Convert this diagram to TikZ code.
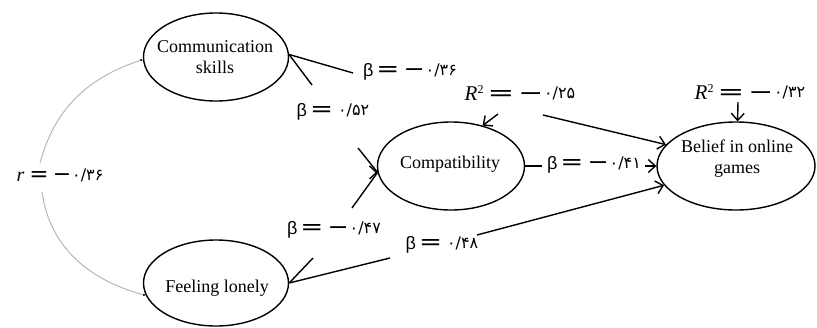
\documentclass[tikz,border=0pt]{standalone}
\usepackage{fontspec}
\usepackage{graphicx}
\setmainfont{Liberation Serif}
\newfontfamily\lsans{Liberation Sans}
\newfontfamily\dvs{DejaVu Sans}
\usetikzlibrary{shapes.geometric,arrows.meta}
\newcommand{\bsym}{{\lsans\fontsize{18}{18}\selectfont β}}
\newcommand{\opx}[2]{\scalebox{#1}[1]{\dvs\fontsize{22}{24}\selectfont #2}}
\newcommand{\dgt}[1]{\raisebox{1.5pt}{\dvs\fontsize{16}{16}\selectfont #1}}
\newcommand{\rsq}{{\fontsize{21}{22}\selectfont\itshape R}\raisebox{7pt}{\fontsize{12}{12}\selectfont 2}}
\tikzset{
  ell/.style={ellipse, draw, line width=1.4pt, inner sep=0pt},
  etxt/.style={align=center, inner sep=0pt, font=\fontsize{18}{21}\selectfont},
  lbl/.style={inner sep=1pt},
  ln/.style={line width=1.4pt},
  arr/.style={line width=1.4pt, -{Straight Barb[length=7pt,width=13pt]}},
  corr/.style={draw=black!28, line width=1pt, -{Latex[length=2.5pt,width=2.5pt,color=black]}}
}
\begin{document}
\begin{tikzpicture}[x=1pt,y=-1pt]
\useasboundingbox (0,0) rectangle (817,327);
\fill[white] (0,0) rectangle (817,327);
% ellipses
\node[ell, minimum width=145pt, minimum height=88pt] (cs) at (216,57) {};
\node[ell, minimum width=145pt, minimum height=86pt] (fl) at (216,283) {};
\node[ell, minimum width=147pt, minimum height=88pt] (cp) at (451,166) {};
\node[ell, minimum width=158pt, minimum height=88pt] (bg) at (736,166) {};
\node[etxt] (cst) at (215,57) {Communication\\skills};
\node[etxt] (flt) at (217,288) {Feeling lonely};
\node[etxt] (cpt) at (450,164) {Compatibility};
\node[etxt] (bgt) at (737,159) {Belief in online\\games};
% labels
\node[lbl] (b36) at (410,72) {\bsym\hspace{3pt}\opx{1.25}{=}\hspace{4pt}\opx{1.15}{−}\hspace{1pt}\dgt{۰/۳۶}};
\node[lbl] (b52) at (333,112) {\bsym\hspace{3pt}\opx{1.25}{=}\hspace{5pt}\dgt{۰/۵۲}};
\node[lbl] (r25) at (520,93) {\rsq\hspace{4pt}\opx{1.45}{=}\hspace{4pt}\opx{1.35}{−}\hspace{1pt}\dgt{۰/۲۵}};
\node[lbl] (r32) at (750,92) {\rsq\hspace{4pt}\opx{1.45}{=}\hspace{4pt}\opx{1.35}{−}\hspace{1pt}\dgt{۰/۳۲}};
\node[lbl] (b41) at (594,165) {\bsym\hspace{3pt}\opx{1.25}{=}\hspace{4pt}\opx{1.15}{−}\hspace{1pt}\dgt{۰/۴۱}};
\node[lbl] (b47) at (334,230) {\bsym\hspace{3pt}\opx{1.25}{=}\hspace{4pt}\opx{1.15}{−}\hspace{1pt}\dgt{۰/۴۷}};
\node[lbl] (b48) at (442,245) {\bsym\hspace{3pt}\opx{1.25}{=}\hspace{5pt}\dgt{۰/۴۸}};
\node[lbl] (rr) at (60,175) {{\fontsize{20}{22}\selectfont\itshape r}\hspace{5pt}\opx{1.05}{=}\hspace{4pt}\opx{1.0}{−}\hspace{1pt}\dgt{۰/۳۶}};
% free ends
\coordinate (a1) at (353,73);
\coordinate (a2) at (312,85);
\coordinate (a3) at (358,148);
\coordinate (a4) at (352,208);
\coordinate (a5) at (313,258);
\coordinate (a6) at (390,258);
\coordinate (a7) at (477,235);
\coordinate (a8) at (543,115);
\coordinate (a9) at (498,114);
\coordinate (a10) at (738,102);
\coordinate (a11) at (542,166);
\coordinate (a12) at (645,166);
\coordinate (g1) at (40,163);
\coordinate (g2) at (42,192);
% connectors
\draw[ln] (a1) -- (cs.2);
\draw[ln] (a2) -- (cs.2);
\draw[ln] (a3) -- (cp.185);
\draw[ln] (a4) -- (cp.185);
\draw[arr] ([xshift=-3pt]cp.185) -- (cp.185);
\draw[ln] (a5) -- (fl.east);
\draw[ln] (a6) -- (fl.east);
\draw[arr] (a7) -- (bg.195);
\draw[arr] (a8) -- (bg.163);
\draw[arr] (a9) -- (cp.52);
\draw[arr] (a10) -- (bg.88);
\draw[ln] (cp.east) -- (a11);
\draw[arr] (a12) -- (bg.west);
\draw[corr] (g1) to[out=75,in=198] (cs.182);
\draw[corr] (g2) to[out=-82,in=165] (fl.190);
\end{tikzpicture}
\end{document}
